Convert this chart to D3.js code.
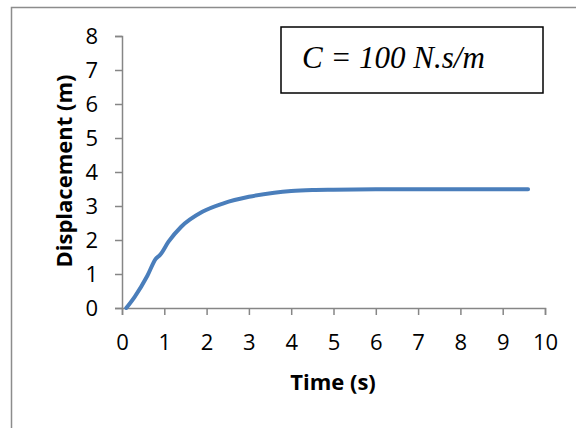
<!DOCTYPE html>
<html>
<head>
<meta charset="utf-8">
<script src="https://cdn.jsdelivr.net/npm/d3@7"></script>
<style>
  body { margin: 0; background: #fff; }
</style>
</head>
<body>
<div id="chart"></div>
<script>
// curve
var timeVals = [0.1, 0.3, 0.6, 0.8, 0.9, 1.1, 1.4, 1.9, 2.4, 3.0, 3.6, 4.0, 4.5, 5.0, 6, 7, 8, 9, 9.6];
var dispVals = [0, 0.33, 0.95, 1.45, 1.56, 1.95, 2.39, 2.83, 3.08, 3.27, 3.39, 3.44, 3.47, 3.48, 3.49, 3.49, 3.49, 3.49, 3.49];
var xTicks = [0, 1, 2, 3, 4, 5, 6, 7, 8, 9, 10];
var yTicks = [0, 1, 2, 3, 4, 5, 6, 7, 8];
var note = "C = 100 N.s/m";

var width = 576, height = 428;
var margin = {top: 36, right: 31, bottom: 120, left: 122};
var font = "'Open Sans', sans-serif";

var svg = d3.select("#chart").append("svg")
  .attr("width", width)
  .attr("height", height);

// outer chart border (runs off the canvas on right/bottom)
svg.append("rect")
  .attr("x", 11.5).attr("y", 7.5)
  .attr("width", 600).attr("height", 500)
  .attr("fill", "none")
  .attr("stroke", "#8c8c8c")
  .attr("stroke-width", 1.5);

var x = d3.scaleLinear().domain([0, 10]).range([margin.left, width - margin.right]);
var y = d3.scaleLinear().domain([0, 8]).range([height - margin.bottom, margin.top]);

var axisColor = "#868686";

var xAxis = svg.append("g")
  .attr("transform", "translate(0," + y(0) + ")")
  .call(d3.axisBottom(x).tickValues(xTicks).tickSize(7).tickPadding(19).tickFormat(d3.format("d")));

var yAxis = svg.append("g")
  .attr("transform", "translate(" + x(0) + ",0)")
  .call(d3.axisLeft(y).tickValues(yTicks).tickSize(7).tickPadding(17).tickFormat(d3.format("d")));

[xAxis, yAxis].forEach(function(g) {
  g.attr("font-family", font).attr("font-size", 22);
  g.select(".domain").attr("stroke", axisColor).attr("stroke-width", 1.5);
  g.selectAll(".tick line").attr("stroke", axisColor).attr("stroke-width", 1.5);
  g.selectAll(".tick text").attr("fill", "#000");
});
xAxis.selectAll(".tick text").attr("dy", "0.71em");

// data line
var line = d3.line()
  .x(function(d, i) { return x(timeVals[i]); })
  .y(function(d) { return y(d); })
  .curve(d3.curveMonotoneX);

svg.append("path")
  .datum(dispVals)
  .attr("d", line)
  .attr("fill", "none")
  .attr("stroke", "#4a7ebb")
  .attr("stroke-width", 4)
  .attr("stroke-linecap", "round")
  .attr("stroke-linejoin", "round");

// axis titles
svg.append("text")
  .attr("x", 333).attr("y", 390)
  .attr("text-anchor", "middle")
  .style("font-family", font)
  .style("font-weight", "bold")
  .style("font-size", "22px")
  .text("Time (s)");

svg.append("text")
  .attr("transform", "translate(72,171) rotate(-90)")
  .attr("text-anchor", "middle")
  .style("font-family", font)
  .style("font-weight", "bold")
  .style("font-size", "22px")
  .text("Displacement (m)");

// annotation box
svg.append("rect")
  .attr("x", 281).attr("y", 27)
  .attr("width", 262).attr("height", 66)
  .attr("fill", "#fff")
  .attr("stroke", "#000")
  .attr("stroke-width", 1.5);

svg.append("text")
  .attr("x", 302).attr("y", 68)
  .style("font-family", "'Liberation Serif', 'Times New Roman', serif")
  .style("font-style", "italic")
  .style("font-size", "31px")
  .text(note);
</script>
</body>
</html>
